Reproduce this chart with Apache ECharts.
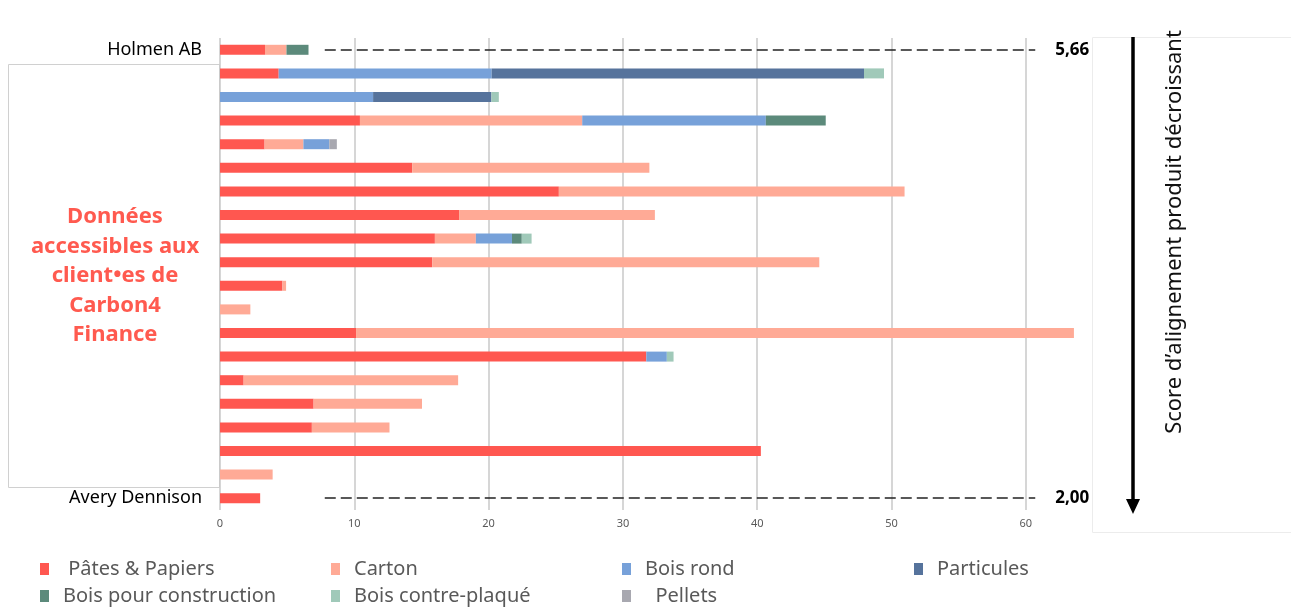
<!DOCTYPE html>
<html>
<head>
<meta charset="utf-8">
<style>
  html, body { margin: 0; padding: 0; background: #fff; }
  #chart { width: 1291px; height: 607px; }
</style>
<script src="https://cdn.jsdelivr.net/npm/echarts@6/dist/echarts.min.js"></script>
</head>
<body>
<div id="chart"></div>
<script>
  // rows from top (highest score) to bottom
  const companies = ['Holmen AB', '', '', '', '', '', '', '', '', '', '', '', '', '', '', '', '', '', '', 'Avery Dennison'];

  const pates        = [3.35, 4.37, 0, 10.42, 3.32, 14.31, 25.23, 17.8, 16.0, 15.8, 4.65, 0, 10.13, 31.74, 1.76, 6.97, 6.84, 40.27, 0, 2.99];
  const carton       = [1.6, 0, 0, 16.55, 2.89, 17.66, 25.74, 14.58, 3.05, 28.82, 0.27, 2.26, 53.45, 0, 15.97, 8.07, 5.78, 0, 3.92, 0];
  const boisRond     = [0, 15.86, 11.4, 13.67, 1.93, 0, 0, 0, 2.69, 0, 0, 0, 0, 1.53, 0, 0, 0, 0, 0, 0];
  const particules   = [0, 27.72, 8.81, 0, 0, 0, 0, 0, 0, 0, 0, 0, 0, 0, 0, 0, 0, 0, 0, 0];
  const construction = [1.64, 0, 0, 4.46, 0, 0, 0, 0, 0.73, 0, 0, 0, 0, 0, 0, 0, 0, 0, 0, 0];
  const contreplaque = [0, 1.49, 0.55, 0, 0, 0, 0, 0, 0.73, 0, 0, 0, 0, 0.5, 0, 0, 0, 0, 0, 0];
  const pellets      = [0, 0, 0, 0, 0.56, 0, 0, 0, 0, 0, 0, 0, 0, 0, 0, 0, 0, 0, 0, 0];

  const xTicks = [0, 10, 20, 30, 40, 50, 60];
  const scoreRows = [0, 19];
  const scoreLabels = ['5,66', '2,00'];
  const dashFrom = 7.8;
  const dashTo = 60.7;

  const FONT = '"Noto Sans", sans-serif';

  const seriesDefs = [
    { name: 'Pâtes & Papiers', data: pates, color: '#FF5750' },
    { name: 'Carton', data: carton, color: '#FFAA96' },
    { name: 'Bois rond', data: boisRond, color: '#77A1D9' },
    { name: 'Particules', data: particules, color: '#56739C' },
    { name: 'Bois pour construction', data: construction, color: '#5C8A7B' },
    { name: 'Bois contre-plaqué', data: contreplaque, color: '#A0C9B9' },
    { name: 'Pellets', data: pellets, color: '#A8A8B0' },
  ];

  const series = seriesDefs.map((s) => ({
    name: s.name,
    type: 'bar',
    stack: 'total',
    barWidth: 10,
    data: s.data,
    itemStyle: { color: s.color },
    emphasis: { disabled: true },
  }));

  // dashed score lines on first series
  series[0].markLine = {
    silent: true,
    symbol: 'none',
    lineStyle: { color: '#222', type: [11, 5], width: 1.5 },
    label: {
      show: true,
      position: 'end',
      distance: 20,
      color: '#000',
      fontFamily: FONT,
      fontWeight: 'bold',
      fontSize: 17,
      formatter: (p) => p.data.label,
    },
    data: scoreRows.map((row, i) => [
      { coord: [dashFrom, row], label: scoreLabels[i] },
      { coord: [dashTo, row] },
    ]),
  };

  // legend grid: 4 columns, 2 rows
  const legendSlots = [
    { name: 'Pâtes & Papiers', left: 40, top: 559 },
    { name: 'Carton', left: 331, top: 559 },
    { name: 'Bois rond', left: 622, top: 559 },
    { name: 'Particules', left: 914, top: 559 },
    { name: 'Bois pour construction', left: 40, top: 586 },
    { name: 'Bois contre-plaqué', left: 331, top: 586 },
    { name: 'Pellets', left: 622, top: 586 },
  ];
  const legendPad = { 'Pâtes & Papiers': ' ', 'Pellets': '  ' };

  const chart = echarts.init(document.getElementById('chart'));
  chart.setOption({
    animation: false,
    grid: { left: 220, right: 198, top: 38, bottom: 97 },
    legend: legendSlots.map((l) => ({
      data: [l.name],
      left: l.left,
      top: l.top,
      padding: 0,
      itemWidth: 9,
      itemHeight: 12,
      icon: 'rect',
      selectedMode: false,
      formatter: (n) => (legendPad[n] || '') + n,
      textStyle: { color: '#595959', fontSize: 20, fontFamily: FONT, lineHeight: 20, padding: [0, 0, 0, 9] },
    })),
    xAxis: {
      type: 'value',
      min: xTicks[0],
      max: 65,
      interval: 10,
      axisLine: { show: false },
      axisTick: { show: false },
      axisLabel: {
        color: '#595959',
        fontSize: 11,
        fontFamily: FONT,
        margin: 8,
        formatter: (v) => (xTicks.includes(v) ? String(v) : ''),
      },
      splitLine: { show: true, showMaxLine: false, lineStyle: { color: '#c8c8c8', width: 1.5 } },
    },
    yAxis: {
      type: 'category',
      inverse: true,
      data: companies,
      axisLine: { show: false },
      axisTick: { show: false },
      axisLabel: { color: '#000', fontSize: 18, fontFamily: FONT, margin: 18, interval: 0 },
    },
    graphic: [
      {
        type: 'rect',
        z: -1,
        shape: { x: 8.5, y: 64.5, width: 211, height: 423 },
        style: { fill: '#fff', stroke: '#d0d0d0', lineWidth: 1 },
      },
      {
        type: 'text',
        x: 115,
        y: 276,
        style: {
          text: 'Données\naccessibles aux\nclient•es de\nCarbon4\nFinance',
          align: 'center',
          verticalAlign: 'middle',
          fill: '#FF5A4F',
          fontFamily: FONT,
          fontWeight: 'bold',
          fontSize: 22,
          lineHeight: 29.5,
        },
      },
      {
        type: 'rect',
        z: -1,
        shape: { x: 1092.5, y: 37.5, width: 210, height: 495 },
        style: { fill: 'none', stroke: '#ececec', lineWidth: 1 },
      },
      {
        type: 'line',
        shape: { x1: 1133, y1: 37, x2: 1133, y2: 502 },
        style: { stroke: '#000', lineWidth: 3.5 },
      },
      {
        type: 'polygon',
        shape: { points: [[1126, 499], [1140, 499], [1133, 514]] },
        style: { fill: '#000' },
      },
      {
        type: 'text',
        x: 1175,
        y: 232,
        rotation: Math.PI / 2,
        style: {
          text: 'Score d\u2019alignement produit décroissant',
          align: 'center',
          verticalAlign: 'middle',
          fill: '#111',
          fontFamily: FONT,
          fontSize: 22,
        },
      },
    ],
    series: series,
  });
</script>
</body>
</html>
